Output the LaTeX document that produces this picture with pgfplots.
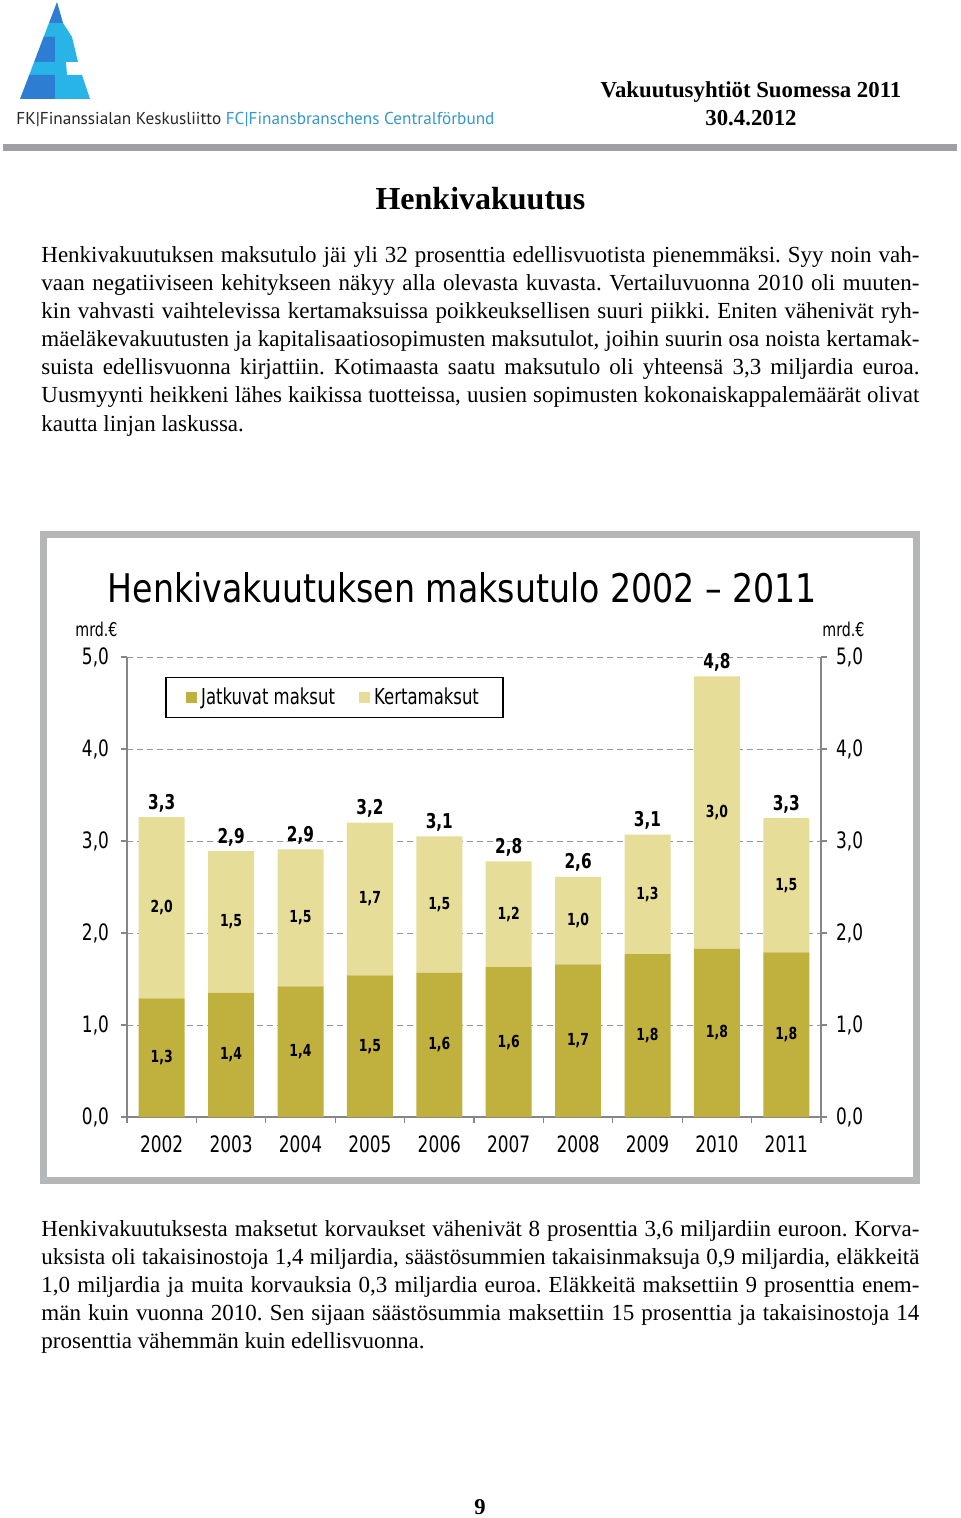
\documentclass[border=0pt]{standalone}
\usepackage{fontspec}
\usepackage{graphicx}
\usepackage{pgfplots}
\pgfplotsset{compat=1.18}
\setmainfont{Liberation Serif}
\newfontfamily\chartfont[FakeStretch=0.75]{DejaVu Sans}
\newfontfamily\logofont{PT Sans}
\frenchspacing

\definecolor{darkbar}{RGB}{192,176,62}
\definecolor{lightbar}{RGB}{230,222,152}
\definecolor{framegray}{RGB}{180,182,184}
\definecolor{rulegray}{RGB}{158,160,163}
\definecolor{axisgray}{RGB}{134,134,134}
\definecolor{gridgray}{RGB}{150,150,150}
\definecolor{logodark}{RGB}{45,125,210}
\definecolor{logocyan}{RGB}{40,180,230}
\definecolor{fcblue}{RGB}{52,152,204}

% one justified line of body text, baseline at y (px)
\newcommand{\jline}[2]{\node[anchor=base west,inner sep=0] at (41,#1) {\fontsize{11.5}{14}\selectfont\makebox[439pt][s]{#2}};}
\newcommand{\pline}[2]{\node[anchor=base west,inner sep=0] at (41,#1) {\fontsize{11.5}{14}\selectfont #2};}

\begin{document}
\begin{tikzpicture}[x=0.5pt,y=-0.5pt]
\useasboundingbox[fill=white] (0,0) rectangle (960,1518);

% logo
\fill[logodark] (57,2) -- (63,23) -- (49,23) -- cycle;
\fill[logocyan] (49,23) -- (63,23) -- (72,37) -- (43.6,37) -- cycle;
\fill[logodark] (43.6,37) -- (55,37) -- (55,62) -- (34.1,62) -- cycle;
\fill[logocyan] (55,37) -- (72,37) -- (78,62) -- (55,62) -- cycle;
\fill[logocyan] (34.1,62) -- (66,62) -- (67,75) -- (29.2,75) -- cycle;
\fill[logodark] (29.2,75) -- (55,75) -- (55,99) -- (20,99) -- cycle;
\fill[logocyan] (55,75) -- (82,75) -- (90,99) -- (55,99) -- cycle;
\node[anchor=base west,inner sep=0] at (16,125) {\resizebox{239pt}{!}{\logofont\color{black!85}FK|Finanssialan Keskusliitto \color{fcblue}FC|Finansbranschens Centralförbund}};

\node[anchor=base,inner sep=0] at (751,98) {\fontsize{11.4}{13}\selectfont\bfseries Vakuutusyhtiöt Suomessa 2011};
\node[anchor=base,inner sep=0] at (751,126) {\fontsize{11.4}{13}\selectfont\bfseries 30.4.2012};
\fill[rulegray] (3,144) rectangle (957,151);

\node[anchor=base,inner sep=0] at (480.5,210) {\fontsize{16}{19}\selectfont\bfseries Henkivakuutus};

\jline{263}{Henkivakuutuksen maksutulo jäi yli 32 prosenttia edellisvuotista pienemmäksi. Syy noin vah-}
\jline{291}{vaan negatiiviseen kehitykseen näkyy alla olevasta kuvasta. Vertailuvuonna 2010 oli muuten-}
\jline{319}{kin vahvasti vaihtelevissa kertamaksuissa poikkeuksellisen suuri piikki. Eniten vähenivät ryh-}
\jline{347}{mäeläkevakuutusten ja kapitalisaatiosopimusten maksutulot, joihin suurin osa noista kertamak-}
\jline{375}{suista edellisvuonna kirjattiin. Kotimaasta saatu maksutulo oli yhteensä 3,3 miljardia euroa.}
\jline{403}{Uusmyynti heikkeni lähes kaikissa tuotteissa, uusien sopimusten kokonaiskappalemäärät olivat}
\pline{431}{kautta linjan laskussa.}

\jline{1236}{Henkivakuutuksesta maksetut korvaukset vähenivät 8 prosenttia 3,6 miljardiin euroon. Korva-}
\jline{1264}{uksista oli takaisinostoja 1,4 miljardia, säästösummien takaisinmaksuja 0,9 miljardia, eläkkeitä}
\jline{1292}{1,0 miljardia ja muita korvauksia 0,3 miljardia euroa. Eläkkeitä maksettiin 9 prosenttia enem-}
\jline{1320}{män kuin vuonna 2010. Sen sijaan säästösummia maksettiin 15 prosenttia ja takaisinostoja 14}
\pline{1348}{prosenttia vähemmän kuin edellisvuonna.}

\node[anchor=base,inner sep=0] at (480,1514) {\fontsize{11.3}{13}\selectfont\bfseries 9};

% chart frame and texts
\draw[framegray, line width=3.5pt] (43.5,534.5) rectangle (916.5,1180.5);
\node[anchor=base,inner sep=0] at (462.5,602) {\resizebox{354.5pt}{15pt}{\chartfont Henkivakuutuksen maksutulo 2002 – 2011}};
\node[anchor=base west,inner sep=0] at (75,636) {\chartfont\fontsize{9.5}{11}\selectfont mrd.€};
\node[anchor=base west,inner sep=0] at (822,636) {\chartfont\fontsize{9.5}{11}\selectfont mrd.€};

\pgfplotsset{
  chartbase/.style={
    at={(63.5pt,-558.5pt)}, anchor=south west,
    scale only axis, width=347pt, height=230pt,
    xmin=-0.5, xmax=9.5, ymin=0, ymax=5,
    ytick={0,1,2,3,4,5},
    /pgf/number format/assume math mode=true,
    yticklabel style={/pgf/number format/fixed, /pgf/number format/fixed zerofill,
      /pgf/number format/precision=1, /pgf/number format/use comma},
    tick label style={font=\chartfont\fontsize{11.3}{13}\selectfont},
    axis line style={draw=axisgray, line width=0.6pt},
    tick style={draw=axisgray, line width=0.6pt},
    tick align=outside, major tick length=3pt,
  },
}

\begin{axis}[chartbase,
  ybar stacked, bar width=23pt,
  axis lines*=left,
  xtick={-0.5,0.5,...,9.5}, x tick label as interval,
  xticklabels={2002,2003,2004,2005,2006,2007,2008,2009,2010,2011},
  xticklabel style={yshift=-3pt},
  yticklabel style={xshift=-2.5pt},
  ymajorgrids, grid style={densely dashed, draw=gridgray, line width=0.5pt},
  legend style={at={(0.055,0.957)}, anchor=north west, draw=black, line width=0.8pt,
    fill=white, font=\chartfont\fontsize{11}{13}\selectfont,
    inner xsep=10pt, inner ysep=3pt,
    /tikz/every even column/.append style={column sep=10pt}},
  legend columns=2, legend cell align=left,
  legend image code/.code={\fill[#1] (0pt,-2.8pt) rectangle (5.6pt,2.8pt);},
]
\addplot[fill=darkbar, draw=none] coordinates {(0,1.29) (1,1.35) (2,1.42) (3,1.54) (4,1.57) (5,1.63) (6,1.66) (7,1.77) (8,1.83) (9,1.79)};
\addplot[fill=lightbar, draw=none] coordinates {(0,1.97) (1,1.54) (2,1.49) (3,1.66) (4,1.48) (5,1.15) (6,0.95) (7,1.30) (8,2.96) (9,1.46)};
\legend{Jatkuvat maksut, Kertamaksut}
\end{axis}

\begin{axis}[chartbase,
  axis x line=none, axis y line*=right, xtick=\empty,
  yticklabel style={xshift=1pt},
  nodes near coords, point meta=explicit symbolic,
]
% labels in the middle of the dark segments
\addplot[draw=none, mark=none, nodes near coords style={anchor=center, font=\chartfont\bfseries\fontsize{8.3}{10}\selectfont}]
  coordinates {(0,0.645)[1,3] (1,0.675)[1,4] (2,0.71)[1,4] (3,0.77)[1,5] (4,0.785)[1,6] (5,0.815)[1,6] (6,0.83)[1,7] (7,0.885)[1,8] (8,0.915)[1,8] (9,0.895)[1,8]};
% labels in the middle of the light segments
\addplot[draw=none, mark=none, nodes near coords style={anchor=center, font=\chartfont\bfseries\fontsize{8.3}{10}\selectfont}]
  coordinates {(0,2.275)[2,0] (1,2.12)[1,5] (2,2.165)[1,5] (3,2.37)[1,7] (4,2.31)[1,5] (5,2.205)[1,2] (6,2.135)[1,0] (7,2.42)[1,3] (8,3.31)[3,0] (9,2.52)[1,5]};
% totals above the bars
\addplot[draw=none, mark=none, nodes near coords style={anchor=base, yshift=4pt, inner sep=0, font=\chartfont\bfseries\fontsize{10.2}{12}\selectfont}]
  coordinates {(0,3.26)[3,3] (1,2.89)[2,9] (2,2.91)[2,9] (3,3.20)[3,2] (4,3.05)[3,1] (5,2.78)[2,8] (6,2.61)[2,6] (7,3.07)[3,1] (8,4.79)[4,8] (9,3.25)[3,3]};
\end{axis}
\end{tikzpicture}
\end{document}
